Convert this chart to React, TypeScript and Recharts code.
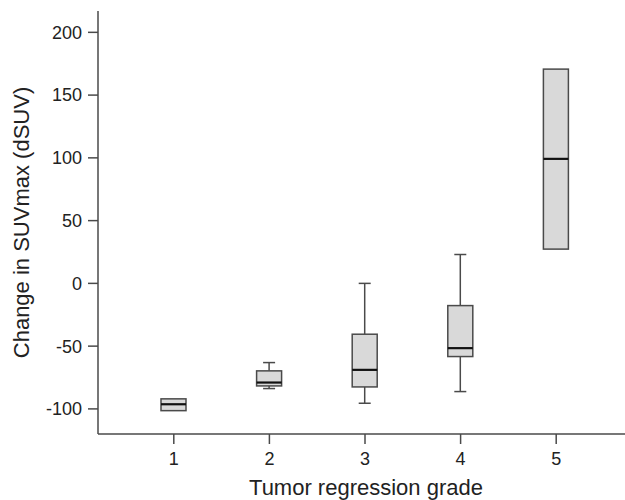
import React from 'react';
import { ComposedChart, Bar, XAxis, YAxis, Label } from 'recharts';

// box plot summary per tumor regression grade
const grades = ['1', '2', '3', '4', '5'];
const mins = [-101.4, -83.8, -95.5, -86.2, 27.3];
const q1s = [-101.4, -81.7, -82.5, -58.3, 27.3];
const medians = [-96.3, -79.0, -68.9, -51.6, 99.2];
const q3s = [-92.0, -69.7, -40.5, -17.7, 170.7];
const maxs = [-92.0, -63.1, 0, 23.0, 170.7];
const yTicks = [-100, -50, 0, 50, 100, 150, 200];

const data = grades.map((g, i) => ({
  grade: g,
  range: [mins[i], maxs[i]],
  min: mins[i],
  q1: q1s[i],
  median: medians[i],
  q3: q3s[i],
  max: maxs[i],
}));

const FONT = '"Liberation Sans", Arial, sans-serif';
const LINE = '#4a4a4a';

// draws whiskers + box + median from the range bar the library positioned
const BoxShape = (props: any) => {
  const { x, y, width, height, payload } = props;
  if (x == null || y == null) return null;
  const top = Math.min(y, y + height);
  const bottom = Math.max(y, y + height);
  const { min, q1, median, q3, max } = payload;
  const span = max - min;
  const pxPerUnit = span > 0 ? (bottom - top) / span : 0;
  const toY = (v: number) => top + (max - v) * pxPerUnit;
  const cx = x + width / 2;
  const cap = 6;
  const yQ1 = toY(q1);
  const yQ3 = toY(q3);
  const yMed = toY(median);
  return (
    <g>
      {max > q3 && (
        <g stroke={LINE} strokeWidth={1.5}>
          <line x1={cx} x2={cx} y1={toY(max)} y2={yQ3} />
          <line x1={cx - cap} x2={cx + cap} y1={toY(max)} y2={toY(max)} />
        </g>
      )}
      {min < q1 && (
        <g stroke={LINE} strokeWidth={1.5}>
          <line x1={cx} x2={cx} y1={yQ1} y2={toY(min)} />
          <line x1={cx - cap} x2={cx + cap} y1={toY(min)} y2={toY(min)} />
        </g>
      )}
      <rect x={x} y={yQ3} width={width} height={yQ1 - yQ3} fill="#d9d9d9" stroke={LINE} strokeWidth={1.5} />
      <line x1={x} x2={x + width} y1={yMed} y2={yMed} stroke="#111" strokeWidth={2.2} />
    </g>
  );
};

const YTitle = (props: any) => {
  const { viewBox } = props;
  const cx = viewBox.x + 29;
  const cy = viewBox.y + viewBox.height / 2;
  return (
    <text
      x={cx}
      y={cy}
      transform={`rotate(-90, ${cx}, ${cy})`}
      textAnchor="middle"
      fontFamily={FONT}
      fontSize={22}
      fill="#222"
    >
      Change in SUVmax (dSUV)
    </text>
  );
};

export default function App() {
  return (
    <div style={{ position: 'absolute', left: 0, top: 0, width: 625, height: 500, overflow: 'hidden', background: '#fff' }}>
      <ComposedChart width={640} height={500} data={data} margin={{ top: 11, right: 6, left: 0, bottom: 0 }}>
        <XAxis
          dataKey="grade"
          height={66}
          padding={{ left: 28, right: 30 }}
          stroke={LINE}
          strokeWidth={1.5}
          tickSize={10}
          tickMargin={8}
          tick={{ fill: '#222', fontSize: 18, fontFamily: FONT }}
        >
          <Label
            value="Tumor regression grade"
            position="insideBottom"
            offset={5}
            style={{ fill: '#222', fontSize: 22, fontFamily: FONT }}
          />
        </XAxis>
        <XAxis
          xAxisId="top"
          dataKey="grade"
          orientation="top"
          height={0}
          tick={false}
          tickLine={false}
          stroke={LINE}
          strokeWidth={1.5}
        />
        <YAxis
          width={98}
          type="number"
          domain={[-120, 217]}
          allowDataOverflow
          ticks={yTicks}
          stroke={LINE}
          strokeWidth={1.5}
          tickSize={10}
          tickMargin={6}
          tick={{ fill: '#222', fontSize: 18, fontFamily: FONT }}
        >
          <Label content={<YTitle />} />
        </YAxis>
        <Bar dataKey="range" barSize={25} shape={<BoxShape />} isAnimationActive={false} />
      </ComposedChart>
    </div>
  );
}
